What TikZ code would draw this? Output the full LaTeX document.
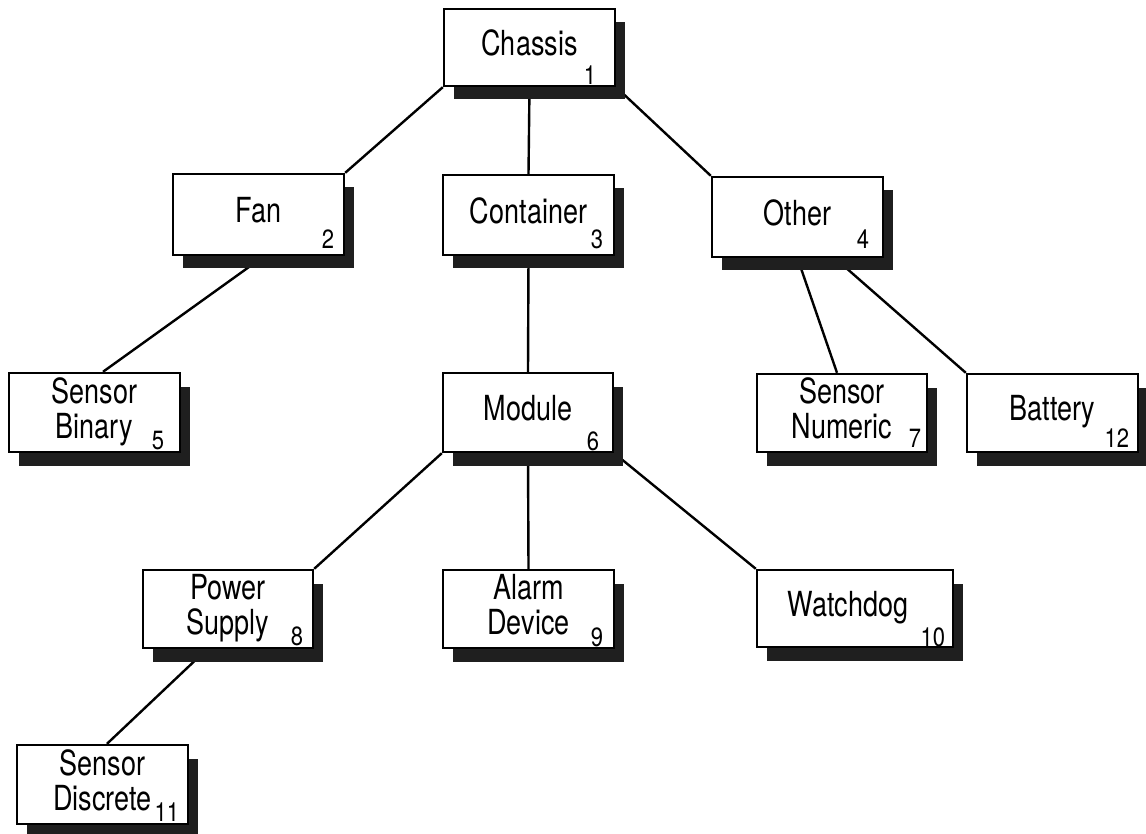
\documentclass[tikz,border=0pt]{standalone}
\usepackage{fontspec}
\usepackage{graphicx}
\setmainfont{TeX Gyre Heros}
\usetikzlibrary{shadows,backgrounds}
\newcommand{\boxlabel}[1]{\scalebox{1}[1.28]{\fontsize{27}{25}\selectfont\begin{tabular}{@{}c@{}}#1\end{tabular}}}
\newcommand{\boxnum}[1]{\scalebox{1}[1.2]{\fontsize{22}{24}\selectfont #1}}
\tikzset{
  treebox/.style={draw=black, line width=2.4pt, fill=white, rectangle, inner sep=0pt,
    minimum width=171pt, minimum height=79pt,
    general shadow={fill=black!88, shadow xshift=9.5pt, shadow yshift=-13.5pt}},
  numlab/.style={inner sep=0pt, anchor=base east},
  link/.style={line width=2.4pt, draw=black}
}
\begin{document}
\begin{tikzpicture}[x=1pt,y=1pt]
\useasboundingbox (0,0) rectangle (1146,-834);

\node[treebox, minimum height=77pt] (chassis) at (529.5,-47.5) {\boxlabel{Chassis}};
\node[treebox, minimum height=81pt] (fan) at (258.5,-214.5) {\boxlabel{Fan}};
\node[treebox, minimum height=80pt] (container) at (528.5,-215) {\boxlabel{Container}};
\node[treebox, minimum height=80pt] (other) at (797.5,-217) {\boxlabel{Other}};
\node[treebox] (sbinary) at (94.5,-412.5) {\boxlabel{Sensor\\Binary}};
\node[treebox, minimum width=170pt] (module) at (528,-412.5) {\boxlabel{Module}};
\node[treebox, minimum width=170pt, minimum height=78pt] (snumeric) at (842,-413) {\boxlabel{Sensor\\Numeric}};
\node[treebox, minimum height=78pt] (battery) at (1052.5,-413) {\boxlabel{Battery}};
\node[treebox, minimum width=170pt, minimum height=78pt] (psupply) at (228,-609) {\boxlabel{Power\\Supply}};
\node[treebox, minimum height=78pt] (alarm) at (528.5,-609) {\boxlabel{Alarm\\Device}};
\node[treebox, minimum width=196pt, minimum height=77pt, text width=184pt, align=center, inner sep=0pt] (watchdog) at (855,-608.5) {\hspace*{-14pt}\boxlabel{Watchdog}};
\node[treebox] (sdiscrete) at (102.5,-784.5) {\boxlabel{Sensor\\Discrete}};

\node[numlab] (n1) at ([xshift=-20pt,yshift=3pt]chassis.south east) {\boxnum{1}};
\node[numlab] (n2) at ([xshift=-11pt,yshift=8pt]fan.south east) {\boxnum{2}};
\node[numlab] (n3) at ([xshift=-12pt,yshift=8pt]container.south east) {\boxnum{3}};
\node[numlab] (n4) at ([xshift=-15pt,yshift=10pt]other.south east) {\boxnum{4}};
\node[numlab] (n5) at ([xshift=-17pt,yshift=4pt]sbinary.south east) {\boxnum{5}};
\node[numlab] (n6) at ([xshift=-15pt,yshift=3pt]module.south east) {\boxnum{6}};
\node[numlab] (n7) at ([xshift=-7pt,yshift=6pt]snumeric.south east) {\boxnum{7}};
\node[numlab] (n8) at ([xshift=-11pt,yshift=4pt]psupply.south east) {\boxnum{8}};
\node[numlab] (n9) at ([xshift=-12pt,yshift=3pt]alarm.south east) {\boxnum{9}};
\node[numlab] (n10) at ([xshift=-9pt,yshift=2pt]watchdog.south east) {\boxnum{10}};
\node[numlab] (n11) at ([xshift=-10pt,yshift=4pt]sdiscrete.south east) {\boxnum{11}};
\node[numlab] (n12) at ([xshift=-10pt,yshift=6pt]battery.south east) {\boxnum{12}};

\begin{scope}[on background layer]
\fill[white] (0,0) rectangle (1146,-834);
\draw[link] (chassis.south west) -- (fan.north east);
\draw[link] (chassis.south) -- (container.north);
\draw[link] (chassis.south east) -- (other.north west);
\draw[link] ([xshift=5.5pt]fan.south) -- ([xshift=8.5pt]sbinary.north);
\draw[link] (container.south) -- (module.north);
\draw[link] (other.south) -- ([xshift=-5pt]snumeric.north);
\draw[link] ([xshift=37.5pt]other.south) -- (battery.north west);
\draw[link] (module.south west) -- (psupply.north east);
\draw[link] (module.south) -- (alarm.north);
\draw[link] (module.south east) -- (watchdog.north west);
\draw[link] ([xshift=-21pt]psupply.south) -- ([xshift=4.5pt]sdiscrete.north);
\end{scope}
\end{tikzpicture}
\end{document}
